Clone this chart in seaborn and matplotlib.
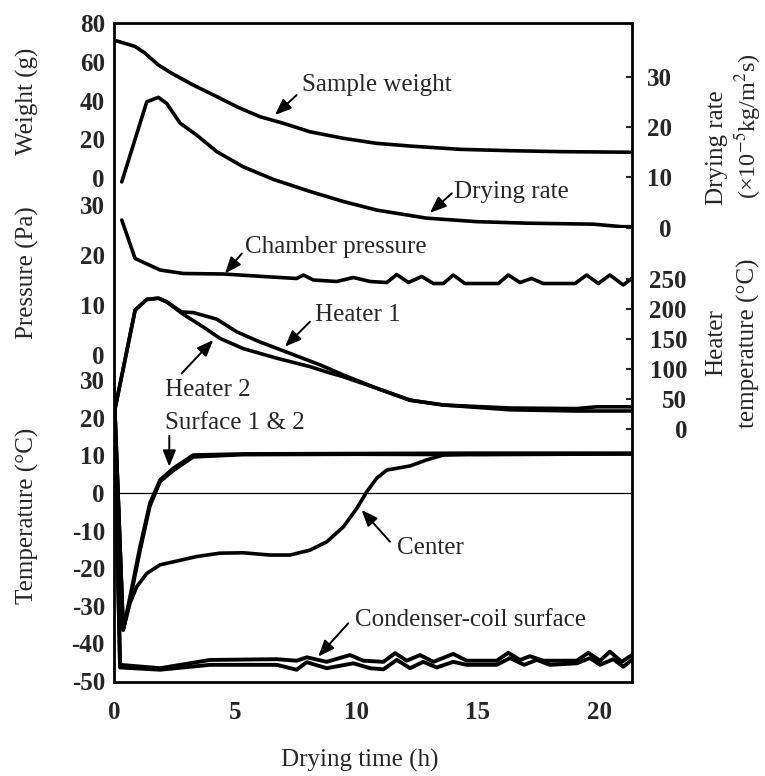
import matplotlib
matplotlib.use('Agg')
from matplotlib import pyplot as plt
from matplotlib.ticker import MultipleLocator
import seaborn as sns

# ---- data (time in h) ----
weight_time = [0, 0.87, 1.28, 1.83, 2.38, 3.27, 4.24, 5.06, 6.02, 6.98, 8.08, 9.46,
               10.83, 12.21, 14.27, 16.33, 18.39, 21.28]
weight = [71.3, 68, 64.5, 58.4, 54.1, 48, 42, 36.8, 31.6, 28.2, 23.8, 20.4,
          17.8, 16.4, 14.7, 14, 13.5, 13.2]

rate_time = [0.32, 1.35, 1.83, 2.17, 2.72, 3.41, 4.24, 5.33, 6.57, 8.08, 9.46,
             10.83, 12.89, 14.96, 17.02, 19.77, 20.94, 21.35]
drying_rate = [9.1, 25.0, 25.9, 24.7, 20.8, 18.4, 15.1, 12.1, 9.6, 7.2, 5.2,
               3.5, 1.9, 1.2, 0.9, 0.7, 0.2, 0.2]

pressure_time = [0.32, 0.87, 1.90, 2.86, 4.51, 6.16, 7.53, 7.81, 8.22, 9.18, 9.87,
                 10.56, 11.25, 11.66, 12.14, 12.69, 13.17, 13.58, 13.99, 14.47, 15.85,
                 16.26, 16.74, 17.22, 17.70, 19.01, 19.49, 19.97, 20.45, 21.0, 21.35]
pressure = [27, 19.3, 17, 16.3, 16.2, 15.7, 15.3, 16, 15, 14.7, 15.5,
            14.7, 14.5, 16.1, 14.5, 15.7, 14.3, 14.3, 16, 14.3, 14.3,
            16, 14.5, 15.3, 14.3, 14.3, 16, 14.3, 16, 14, 15.3]

heater1_time = [0, 0.87, 1.35, 1.83, 2.17, 2.79, 3.27, 4.24, 5.06, 6.02, 7.26, 8.49,
                9.46, 10.83, 12.21, 13.58, 16.33, 19.08, 19.9, 21.35]
heater1 = [25, 198, 216, 218, 212, 195, 194, 183, 162, 145, 126, 107,
           90, 68, 48, 40, 35, 34, 37, 37]
heater2_time = [0, 0.87, 1.35, 1.83, 2.17, 2.79, 3.68, 4.37, 5.33, 6.71, 8.08, 8.77,
                9.46, 10.83, 12.21, 13.58, 16.33, 19.08, 21.35]
heater2 = [25, 198, 216, 218, 212, 193, 170, 151, 134, 118, 104, 95,
           87, 68, 48, 40, 32, 30, 30]

surface_time = [0, 0.38, 0.66, 1.07, 1.48, 1.90, 2.45, 3.27, 5.33, 10, 15, 21.35]
surface1 = [28, -36.4, -27.6, -14.3, -2.7, 3.5, 6.6, 10.1, 10.4, 10.5, 10.6, 10.6]
surface2 = [28, -36.4, -28.5, -15.5, -3.5, 3.0, 6.0, 9.6, 10.2, 10.3, 10.2, 10.4]

center_time = [0, 0.38, 0.66, 0.94, 1.35, 1.90, 2.59, 3.41, 4.37, 5.33, 6.43, 7.26,
               8.08, 8.77, 9.46, 10.01, 10.42, 10.83, 11.25, 12.21, 12.89, 13.58,
               14.96, 21.35]
center = [28, -36.4, -29.3, -24.9, -21.4, -19.1, -18.1, -16.9, -16.0, -15.9, -16.5, -16.5,
          -15.2, -13.0, -9.0, -4.1, 0.3, 3.9, 6.1, 7.2, 8.8, 10.1,
          10.4, 10.4]

coil1_time = [0, 0.25, 1.90, 3.96, 6.71, 7.53, 7.95, 8.77, 9.73, 10.28, 11.11, 11.59,
              12.07, 12.62, 13.17, 13.99, 14.54, 15.78, 16.26, 16.74, 17.15, 17.70,
              19.08, 19.56, 20.04, 20.45, 20.94, 21.35]
coil1 = [25, -45.7, -46.6, -44.4, -44.2, -44.6, -43.7, -44.9, -43.1, -44.6, -44.9, -42.6,
         -44.6, -43.1, -44.9, -42.8, -44.6, -44.6, -42.5, -44.4, -43.4, -44.6,
         -44.6, -42.5, -44.6, -42.2, -44.9, -43.1]
coil2_time = [0, 0.25, 1.90, 3.96, 6.71, 7.53, 7.95, 8.77, 9.87, 10.56, 11.11, 11.66,
              12.21, 12.75, 13.31, 13.99, 14.54, 15.78, 16.33, 16.91, 17.43, 17.98,
              19.08, 19.63, 20.04, 20.59, 21.0, 21.35]
coil2 = [25, -46.4, -47.0, -45.7, -45.7, -47.0, -45.0, -46.6, -45.3, -46.6, -46.9, -44.4,
         -46.6, -44.9, -46.4, -44.9, -45.7, -45.7, -43.9, -45.7, -44.4, -45.7,
         -45.3, -43.9, -45.7, -44.2, -46.2, -44.4]

x_ticks = [0, 5, 10, 15, 20]

# ---- layout (pixels of the 765x776 picture) ----
W, H = 765, 776
LEFT, RIGHT, TOP, BOTTOM = 114, 632, 23, 682
FS = 18
LW = 2.6


def Rect(y_top, y_bot):
    return [LEFT / W, 1 - y_bot / H, (RIGHT - LEFT) / W, (y_bot - y_top) / H]


def AddPanel(fig, frame, y_top, y_bot, ylim, major, minor=None, side='left', pad=6.5):
    axe = fig.add_axes(Rect(y_top, y_bot), sharex=frame)
    axe.patch.set_visible(False)
    for sp in axe.spines.values():
        sp.set_visible(False)
    axe.tick_params(axis='x', bottom=False, labelbottom=False)
    if side == 'right':
        axe.yaxis.tick_right()
    axe.set_ylim(*ylim)
    axe.yaxis.set_major_locator(MultipleLocator(major))
    if minor:
        axe.yaxis.set_minor_locator(MultipleLocator(minor))
    axe.tick_params(axis='y', which='both', direction='in', length=4.5, width=1.5,
                    labelsize=FS, pad=pad)
    for lab in axe.get_yticklabels():
        lab.set_fontweight('bold')
        if side == 'right':
            lab.set_horizontalalignment('right')
    return axe


def Line(axe, x, y, lw=LW):
    sns.lineplot(x=x, y=y, ax=axe, color='black', linewidth=lw,
                 estimator=None, sort=False)


def Arrow(axe, text, text_xy, tail, head):
    axe.text(text_xy[0], text_xy[1], text, fontsize=FS, ha='left', va='center')
    axe.annotate('', xy=head, xytext=tail,
                 arrowprops=dict(arrowstyle='-|>,head_length=0.55,head_width=0.22',
                                 color='black', lw=1.4, mutation_scale=18,
                                 shrinkA=0, shrinkB=0))


def main():
    sns.set_style('white')
    plt.rcParams['font.family'] = ['Liberation Serif', 'DejaVu Serif']
    plt.rcParams['mathtext.fontset'] = 'stix'
    plt.rcParams['axes.unicode_minus'] = False

    fig = plt.figure(figsize=(W / 100, H / 100), dpi=100)
    frame = fig.add_axes(Rect(TOP, BOTTOM))
    for sp in frame.spines.values():
        sp.set_linewidth(2)
        sp.set_color('black')
    frame.set_yticks([])
    frame.set_xticks(x_ticks)
    frame.tick_params(axis='x', direction='in', length=4.5, width=1.5,
                      labelsize=FS, pad=14)
    for lab in frame.get_xticklabels():
        lab.set_fontweight('bold')

    ax_w = AddPanel(fig, frame, 23.3, 177.7, (0, 80), 20, 10)
    ax_r = AddPanel(fig, frame, 76.7, 227.7, (0, 30), 10, side='right', pad=28.8)
    ax_p = AddPanel(fig, frame, 205, 355, (0, 30), 10, 5)
    ax_h = AddPanel(fig, frame, 279, 429, (0, 250), 50, side='right', pad=39.6)
    ax_t = AddPanel(fig, frame, 380.2, 681, (-50, 30), 10, 5)

    Line(ax_w, weight_time, weight)
    Line(ax_r, rate_time, drying_rate)
    Line(ax_p, pressure_time, pressure)
    Line(ax_h, heater1_time, heater1)
    Line(ax_h, heater2_time, heater2)
    ax_t.axhline(0, color='black', lw=0.9)
    Line(ax_t, surface_time, surface1)
    Line(ax_t, surface_time, surface2)
    Line(ax_t, center_time, center)
    Line(ax_t, coil1_time, coil1, lw=2.8)
    Line(ax_t, coil2_time, coil2, lw=2.8)

    for axe, lim in [(ax_w, (0, 80)), (ax_r, (0, 30)), (ax_p, (0, 30)),
                     (ax_h, (0, 250)), (ax_t, (-50, 30))]:
        axe.set_ylim(*lim)
        axe.set_xlabel('')
        axe.set_ylabel('')
    frame.set_xlim(0, 21.36)

    Arrow(ax_w, 'Sample weight', (7.74, 48.0), (7.53, 42.8), (6.64, 32.5))
    Arrow(ax_r, 'Drying rate', (14.0, 7.15), (13.93, 6.83), (13.03, 2.98))
    Arrow(ax_p, 'Chamber pressure', (5.40, 21.7), (5.27, 20.3), (4.58, 16.3))
    Arrow(ax_h, 'Heater 1', (8.29, 190), (8.08, 178.8), (7.05, 137.2))
    Arrow(ax_h, 'Heater 2', (2.10, 65), (2.79, 92.8), (4.09, 148.3))
    Arrow(ax_t, 'Surface 1 & 2', (2.10, 18.5), (2.28, 15.2), (2.28, 7.0))
    Arrow(ax_t, 'Center', (11.66, -14.7), (11.38, -12.95), (10.21, -4.5))
    Arrow(ax_t, 'Condenser-coil surface', (9.94, -33.8), (9.66, -34.65), (8.42, -43.5))

    # axis titles
    fig.text(27 / W, 1 - 101 / H, 'Weight (g)', rotation=90, fontsize=FS,
             ha='center', va='center')
    fig.text(27 / W, 1 - 273 / H, 'Pressure (Pa)', rotation=90, fontsize=FS,
             ha='center', va='center')
    fig.text(27 / W, 1 - 516 / H, 'Temperature (°C)', rotation=90, fontsize=FS,
             ha='center', va='center')
    fig.text(717 / W, 1 - 148 / H, 'Drying rate', rotation=90, fontsize=FS,
             ha='center', va='center')
    fig.text(748 / W, 1 - 126 / H, r'(×10$^{-5}$kg/m$^{2}$s)', rotation=90,
             fontsize=17.5, ha='center', va='center')
    fig.text(716 / W, 1 - 343 / H, 'Heater', rotation=90, fontsize=FS,
             ha='center', va='center')
    fig.text(748 / W, 1 - 343 / H, 'temperature (°C)', rotation=90, fontsize=FS,
             ha='center', va='center')
    fig.text(360 / W, 1 - 760 / H, 'Drying time (h)', fontsize=FS,
             ha='center', va='center')

    plt.savefig('out.png', dpi=100)


if __name__ == '__main__':
    main()
